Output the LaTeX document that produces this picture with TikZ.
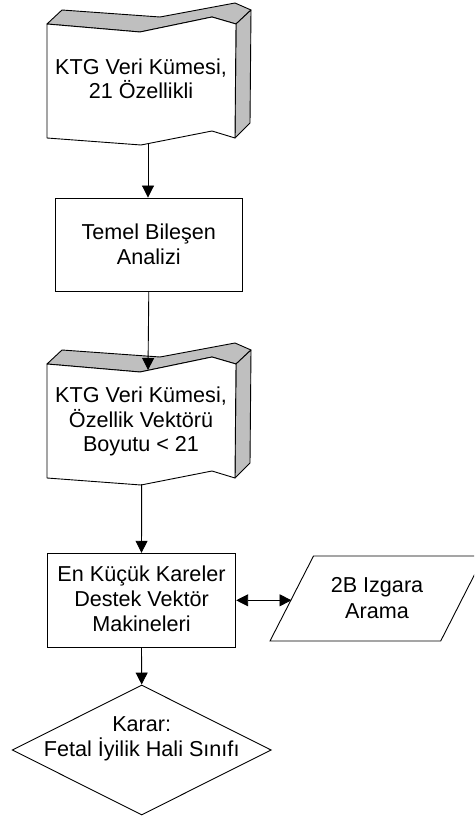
\documentclass[tikz,border=0pt]{standalone}
\usepackage{fontspec}
\setmainfont{Liberation Sans}
\usetikzlibrary{arrows.meta,shapes.geometric}
\newcommand\tapeshape[2]{%
  \begin{scope}[shift={(#1,#2)}]
    \path[shadeface] (0,0) -- (93,8) -- (165,-7) -- (189,0) -- (204,-14) -- (188,-21) -- (113,-7) -- (15,-14) -- cycle;
    \path[shadeface] (189,0) -- (204,-14) -- (203,99) -- (188,114) -- cycle;
    \path[frontface] (0,0) -- (93,8) -- (165,-7) -- (189,0) -- (188,114) -- (165,107) -- (94,121) -- (0,114) -- cycle;
  \end{scope}}
\begin{document}
\begin{tikzpicture}[x=1pt,y=-1pt,
  txt/.style={align=center, font=\fontsize{21.6}{24.5}\selectfont, inner sep=0pt},
  box/.style={draw=black, line width=0.9pt, fill=white, inner sep=0pt},
  arr/.style={-{Triangle[length=12pt,width=12pt]}, line width=0.9pt},
  darr/.style={{Triangle[length=12pt,width=12pt]}-{Triangle[length=12pt,width=12pt]}, line width=0.9pt},
  shadeface/.style={fill=black!25, draw=black, line width=0.9pt, line join=round},
  frontface/.style={fill=white, draw=black, line width=0.9pt, line join=round}]
\clip (0,0) rectangle (474,818);
\fill[white] (0,0) rectangle (474,818);

% data set 1
\tapeshape{47}{24}
\node[txt] (ktg1) at (141,79) {KTG Veri Kümesi,\\21 Özellikli};
\coordinate (s1out) at (148,144);

% PCA
\node[box, minimum width=187.7pt, minimum height=93pt] (pca) at (148.8,244.5) {};
\node[txt] (pcat) at (pca.center) {Temel Bileşen\\Analizi};

% data set 2
\tapeshape{47}{364}
\node[txt] (ktg2) at (141,421.7) {KTG Veri Kümesi,\\Özellik Vektörü\\Boyutu < 21};
\coordinate (s3in) at (148,370);
\coordinate (s3out) at (141.7,484);

% LS-SVM
\node[box, minimum width=188.4pt, minimum height=94pt] (svm) at (141.5,600.3) {};
\node[txt, font=\fontsize{21.6}{25.3}\selectfont] (svmt) at (141.5,598.8) {En Küçük Kareler\\Destek Vektör\\Makineleri};

% grid search (parallelogram, clipped at the right margin)
\draw[line width=0.9pt, fill=white] (270,641) -- (313.5,556) -- (484,556) -- (440.7,641) -- cycle;
\node[txt, font=\fontsize{21.6}{25.6}\selectfont] (grid) at (377,598) {2B Izgara\\Arama};
\coordinate (gin) at (291.5,600.3);

% decision
\node[diamond, draw=black, line width=0.9pt, fill=white, inner sep=0pt,
      minimum width=259pt, minimum height=130pt] (dec) at (141.7,750) {};
\node[txt] (dect) at (141.7,738.8) {Karar:\\Fetal İyilik Hali Sınıfı};

% connectors
\draw[arr] (s1out) -- (s1out |- pca.north);
\draw[arr] (pca.south) -- (s3in);
\draw[arr] (s3out) -- (svm.north);
\draw[darr] (svm.east) -- (gin);
\draw[arr] (svm.south) -- (dec.north);
\end{tikzpicture}
\end{document}
